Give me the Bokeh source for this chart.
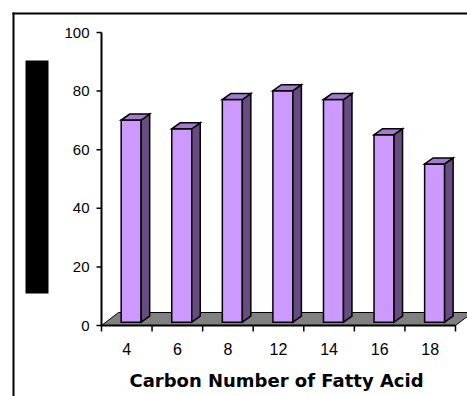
from bokeh.plotting import figure
from bokeh.models import Range1d
from bokeh.core.properties import value
from bokeh.embed import file_html
from bokeh.resources import INLINE

# ---- data -------------------------------------------------------------
carbon_numbers = ["4", "6", "8", "12", "14", "16", "18"]
percent = [69, 66, 76, 79, 76, 64, 54]
y_ticks = [0, 20, 40, 60, 80, 100]
x_title = "Carbon Number of Fatty Acid"

# ---- layout (pixels) --------------------------------------------------
W, H = 467, 396
AXIS_LEFT_PX, AXIS_RIGHT_PX = 101, 455   # ends of the category axis
ZERO_PX, TOP_PX = 325, 32                # pixel rows of 0 and of Y_MAX
Y_MAX = 100

n = len(carbon_numbers)
kx = (AXIS_RIGHT_PX - AXIS_LEFT_PX) / n
ky = (ZERO_PX - TOP_PX) / Y_MAX


def X(px):
    return (px - AXIS_LEFT_PX) / kx


def Y(py):
    return (ZERO_PX - py) / ky


def DX(px):
    return px / kx


def DY(px):
    return px / ky


p = figure(width=W, height=H,
           x_range=Range1d(X(0), X(W)), y_range=Range1d(Y(H), Y(0)),
           output_backend="svg", toolbar_location=None,
           x_axis_type=None, y_axis_type=None, min_border=0)
p.outline_line_color = None
p.background_fill_color = "white"
p.border_fill_color = "white"

FRONT = "#CC99FF"
SIDE = "#664C80"
TOP = "#A37ACC"
FLOOR = "#808080"

# ---- floor of the 3-D plot -------------------------------------------
fdx, fdy = DX(17), DY(13)
p.patch([0, n, n + fdx, fdx], [0, 0, fdy, fdy],
        fill_color=FLOOR, line_color="black", line_width=1, line_join="miter")

# ---- 3-D columns -------------------------------------------------------
half = DX(10)
off_x, off_y = DX(4.4), DY(3.3)      # columns stand mid-depth on the floor
dep_x, dep_y = DX(8.5), DY(6)        # column depth

centers = [i + 0.5 for i in range(n)]
xl = [c - half + off_x for c in centers]
xr = [c + half + off_x for c in centers]
yb = [off_y for _ in percent]
yt = [off_y + v for v in percent]

p.quad(left=xl, right=xr, bottom=yb, top=yt,
       fill_color=FRONT, line_color="black", line_width=1.5, line_join="miter")
p.patches(
    xs=[[r, r + dep_x, r + dep_x, r] for r in xr],
    ys=[[b, b + dep_y, t + dep_y, t] for b, t in zip(yb, yt)],
    fill_color=SIDE, line_color="black", line_width=1.5, line_join="miter")
p.patches(
    xs=[[l, r, r + dep_x, l + dep_x] for l, r in zip(xl, xr)],
    ys=[[t, t, t + dep_y, t + dep_y] for t in yt],
    fill_color=TOP, line_color="black", line_width=1.5, line_join="miter")

# ---- value axis --------------------------------------------------------
p.segment(x0=[0], y0=[0], x1=[0], y1=[Y_MAX], line_color="black", line_width=2)
p.segment(x0=[-DX(5)] * len(y_ticks), y0=y_ticks,
          x1=[0] * len(y_ticks), y1=y_ticks, line_color="black", line_width=1.5)
p.text(x=[X(89)] * len(y_ticks), y=y_ticks,
       text=[str(t) for t in y_ticks],
       text_align="right", text_baseline="middle",
       text_font=value("Liberation Sans"), text_font_size="15px", text_color="black")

# ---- category axis -----------------------------------------------------
p.segment(x0=[0], y0=[0], x1=[n], y1=[0], line_color="black", line_width=2)
edges = list(range(n + 1))
p.segment(x0=edges, y0=[0] * len(edges), x1=edges, y1=[-DY(6)] * len(edges),
          line_color="black", line_width=1.5)
p.text(x=centers, y=[Y(348)] * n, text=carbon_numbers,
       text_align="center", text_baseline="middle",
       text_font=value("Liberation Sans"), text_font_size="16px", text_color="black")
p.text(x=[X(276)], y=[Y(380)], text=[x_title],
       text_align="center", text_baseline="middle",
       text_font=value("DejaVu Sans"), text_font_style="bold",
       text_font_size="18px", text_color="black")

# ---- value-axis title block and chart frame --------------------------
p.quad(left=[X(25)], right=[X(48)], top=[Y(60)], bottom=[Y(293)],
       fill_color="black", line_color=None)
p.segment(x0=[X(12), X(13)], y0=[Y(13), Y(12)], x1=[X(W), X(13)], y1=[Y(13), Y(H)],
          line_color="black", line_width=2)

open("out.html", "w").write(file_html(p, INLINE))
